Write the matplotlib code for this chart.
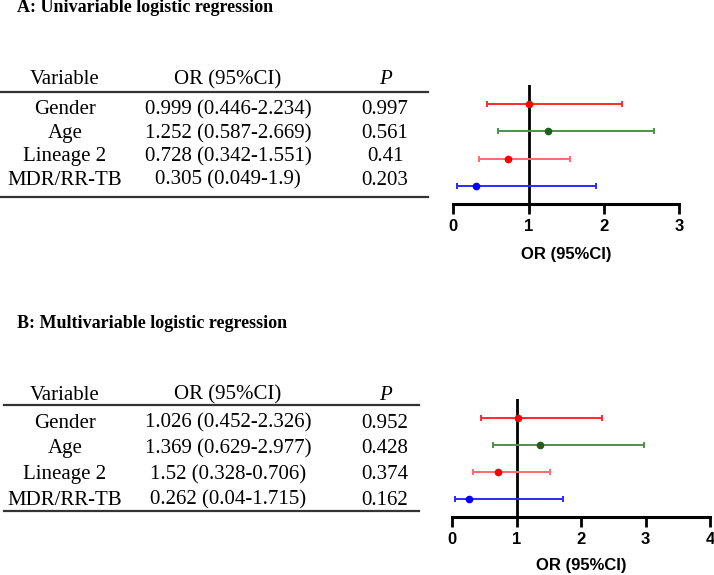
import numpy as np
import matplotlib.pyplot as plt
from matplotlib.lines import Line2D

# 데이터
variables = ["Gender", "Age", "Lineage 2", "MDR/RR-TB"]

uni_or_text = ["0.999 (0.446-2.234)", "1.252 (0.587-2.669)", "0.728 (0.342-1.551)", "0.305 (0.049-1.9)"]
uni_p = ["0.997", "0.561", "0.41", "0.203"]
uni_or = [0.999, 1.252, 0.728, 0.305]
uni_lo = [0.446, 0.587, 0.342, 0.049]
uni_hi = [2.234, 2.669, 1.551, 1.9]

multi_or_text = ["1.026 (0.452-2.326)", "1.369 (0.629-2.977)", "1.52 (0.328-0.706)", "0.262 (0.04-1.715)"]
multi_p = ["0.952", "0.428", "0.374", "0.162"]
multi_or = [1.026, 1.369, 0.706, 0.262]
multi_lo = [0.452, 0.629, 0.328, 0.04]
multi_hi = [2.326, 2.977, 1.52, 1.715]

line_colors = ["#ff2a2a", "#4f8f4f", "#ff6a6a", "#2a2aff"]
dot_colors = ["#ff0000", "#1f5f1f", "#ff0000", "#0000ff"]

W, H = 714, 575
fig = plt.figure(figsize=(W / 100, H / 100), dpi=100)

serif = "Liberation Serif"
sans = "Liberation Sans"

# 텍스트용 오버레이 축 (픽셀 좌표)
ov = fig.add_axes([0, 0, 1, 1])
ov.set_xlim(0, W)
ov.set_ylim(H, 0)
ov.axis("off")


def draw_table(title, title_y, head_y, line1_y, row_y0, dy, line2_y, x0, x1, or_text, p_text):
    ov.text(17, title_y, title, family=serif, fontweight="bold", fontsize=13, va="center", ha="left")
    cols = [65, 228, 385]
    kw = dict(family=serif, fontsize=15, ha="center", va="center")
    ov.text(cols[0], head_y, "Variable", **kw)
    ov.text(cols[1], head_y, "OR (95%CI)", **kw)
    ov.text(cols[2], head_y, "P", style="italic", **kw)
    ov.add_line(Line2D([x0, x1], [line1_y, line1_y], color="#333333", lw=1.6))
    ov.add_line(Line2D([x0, x1], [line2_y, line2_y], color="#333333", lw=1.6))
    for i, v in enumerate(variables):
        y = row_y0 + i * dy
        ov.text(cols[0], y, v, **kw)
        ov.text(cols[1], y, or_text[i], **kw)
        ov.text(cols[2], y, p_text[i], **kw)


def draw_forest(px_left, px_right, px_top, px_bottom, xmax, ors, los, his, lab_pad):
    ax = fig.add_axes([px_left / W, 1 - px_bottom / H, (px_right - px_left) / W, (px_bottom - px_top) / H])
    n = len(ors)
    ys = np.arange(n, 0, -1)
    for i in range(n):
        ax.errorbar(ors[i], ys[i], xerr=[[ors[i] - los[i]], [his[i] - ors[i]]],
                    fmt="none", ecolor=line_colors[i], elinewidth=1.4, capsize=2.5, capthick=1.4)
        ax.plot(ors[i], ys[i], "o", color=dot_colors[i], ms=4.5, zorder=3)
    ax.axvline(1, color="black", lw=2, zorder=1)
    ax.set_xlim(0, xmax)
    ax.set_ylim(0.34, 4.7)
    ax.set_xticks(range(0, xmax + 1))
    ax.set_yticks([])
    for s in ["top", "right", "left"]:
        ax.spines[s].set_visible(False)
    ax.spines["bottom"].set_linewidth(2.2)
    ax.spines["bottom"].set_capstyle("projecting")
    ax.tick_params(axis="x", length=7, width=2, pad=4)
    for lbl in ax.get_xticklabels():
        lbl.set_fontfamily(sans)
        lbl.set_fontweight("bold")
        lbl.set_fontsize(12)
    ax.set_xlabel("OR (95%CI)", family=sans, fontweight="bold", fontsize=12, labelpad=lab_pad)
    ax.patch.set_alpha(0)
    return ax


draw_table("A: Univariable logistic regression", 8, 80, 91.7, 110, 23.4, 196.7, 0, 428,
           uni_or_text, uni_p)
draw_table("B: Multivariable logistic regression", 323, 395, 405, 423, 25.7, 511, 4, 419,
           multi_or_text, multi_p)

draw_forest(453.3, 679.3, 85, 204, 3, uni_or, uni_lo, uni_hi, 9)
draw_forest(452, 710, 399, 516.7, 4, multi_or, multi_lo, multi_hi, 8)

fig.savefig("out.png", dpi=100)
